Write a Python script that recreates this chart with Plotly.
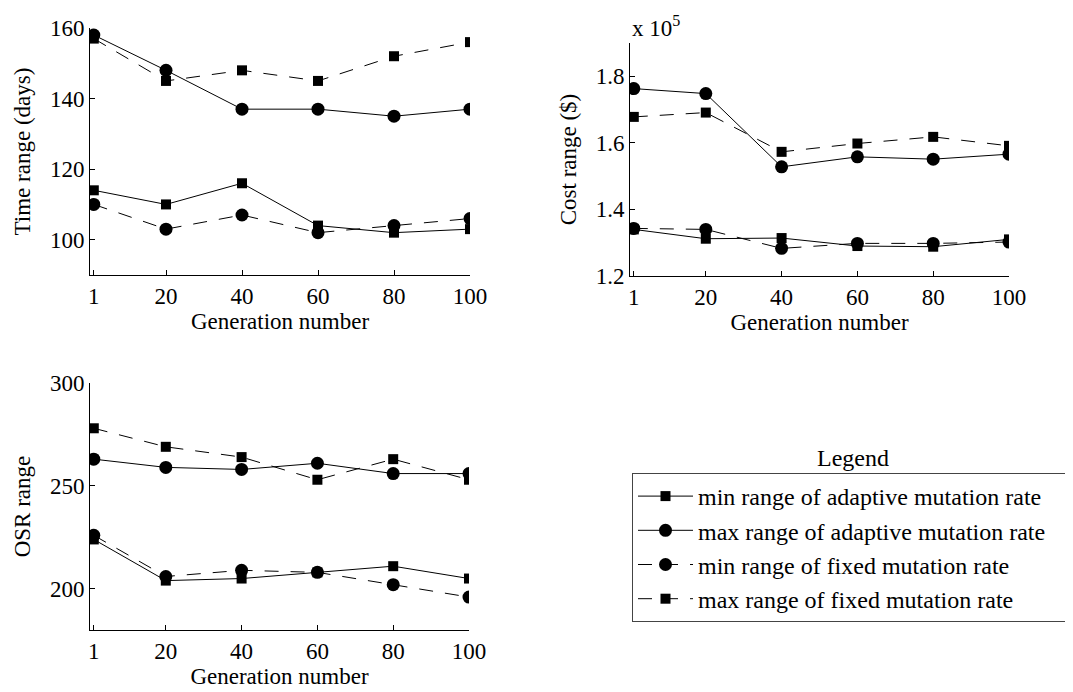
import plotly.graph_objects as go

generations = [1, 20, 40, 60, 80, 100]
gen_labels = ["1", "20", "40", "60", "80", "100"]

series_names = [
    "min range of adaptive mutation rate",
    "max range of adaptive mutation rate",
    "min range of fixed mutation rate",
    "max range of fixed mutation rate",
]

# Time range (days)
time_min_adaptive = [114, 110, 116, 104, 102, 103]
time_max_adaptive = [158, 148, 137, 137, 135, 137]
time_min_fixed = [110, 103, 107, 102, 104, 106]
time_max_fixed = [157, 145, 148, 145, 152, 156]

# Cost range ($)
cost_min_adaptive = [134000, 131200, 131400, 129000, 128800, 131000]
cost_max_adaptive = [176300, 174800, 152800, 155800, 155100, 156600]
cost_min_fixed = [134300, 134000, 128300, 129800, 129800, 130200]
cost_max_fixed = [167800, 169100, 157300, 159800, 161800, 159100]
cost_ticks = [120000, 140000, 160000, 180000]
cost_tick_labels = ["1.2", "1.4", "1.6", "1.8"]

# OSR range
osr_min_adaptive = [224, 204, 205, 208, 211, 205]
osr_max_adaptive = [263, 259, 258, 261, 256, 256]
osr_min_fixed = [226, 206, 209, 208, 202, 196]
osr_max_fixed = [278, 269, 264, 253, 263, 253]

W, H = 1073, 692
OFF = 8  # page body margin
FONT = "Liberation Serif, Times New Roman, serif"
LEGEND_PAD = "\u00a0" * 4

styles = [
    dict(symbol="square", size=10, dash="solid"),
    dict(symbol="circle", size=13, dash="solid"),
    dict(symbol="circle", size=13, dash="14px,12px"),
    dict(symbol="square", size=10, dash="14px,12px"),
]

fig = go.Figure()

panels = [
    ("x", "y", [time_min_adaptive, time_max_adaptive, time_min_fixed, time_max_fixed], True),
    ("x2", "y2", [cost_min_adaptive, cost_max_adaptive, cost_min_fixed, cost_max_fixed], False),
    ("x3", "y3", [osr_min_adaptive, osr_max_adaptive, osr_min_fixed, osr_max_fixed], False),
]

for xa, ya, data, show in panels:
    for i, vals in enumerate(data):
        st = styles[i]
        fig.add_trace(go.Scatter(
            x=generations, y=vals, xaxis=xa, yaxis=ya,
            mode="lines+markers", name=series_names[i] + LEGEND_PAD,
            legendgroup="g%d" % i, showlegend=show,
            line=dict(color="black", width=1, dash=st["dash"]),
            marker=dict(color="black", symbol=st["symbol"], size=st["size"]),
        ))


def px_x(p):
    return (p - OFF) / W


def px_y(p):
    return 1 - (p - OFF) / H


TITLE_FONT = dict(family=FONT, size=23, color="black")

axis_common = dict(
    showline=True, linecolor="black", linewidth=1, mirror=False,
    ticks="inside", ticklen=5, tickcolor="black", tickwidth=1,
    showgrid=False, zeroline=False, automargin=False,
    tickfont=dict(family=FONT, size=23, color="black"),
)

xcommon = dict(axis_common, range=[0, 100], tickvals=generations, ticktext=gen_labels,
               title=dict(text="Generation number", font=TITLE_FONT, standoff=4))

fig.update_layout(
    width=W, height=H,
    margin=dict(l=0, r=0, t=0, b=0, autoexpand=False),
    paper_bgcolor="white", plot_bgcolor="white",
    font=dict(family=FONT, color="black"),
    xaxis=dict(xcommon, domain=[px_x(90), px_x(470)], anchor="y"),
    yaxis=dict(axis_common, domain=[px_y(275), px_y(28)], anchor="x", range=[90, 160],
               tickvals=[100, 120, 140, 160],
               title=dict(text="Time range (days)", font=TITLE_FONT, standoff=12)),
    xaxis2=dict(xcommon, domain=[px_x(630), px_x(1009)], anchor="y2"),
    yaxis2=dict(axis_common, domain=[px_y(276), px_y(43)], anchor="x2", range=[120000, 190000],
                tickvals=cost_ticks, ticktext=cost_tick_labels,
                title=dict(text="Cost range ($)", font=TITLE_FONT, standoff=12)),
    xaxis3=dict(xcommon, domain=[px_x(90), px_x(469)], anchor="y3"),
    yaxis3=dict(axis_common, domain=[px_y(630), px_y(383)], anchor="x3", range=[180, 300],
                tickvals=[200, 250, 300],
                title=dict(text="OSR range", font=TITLE_FONT, standoff=12)),
    legend=dict(
        x=px_x(632), y=px_y(473), xanchor="left", yanchor="top",
        bordercolor="#444444", borderwidth=1, bgcolor="white",
        font=dict(family=FONT, size=24, color="black"),
        itemwidth=55, tracegroupgap=0,
    ),
    annotations=[
        dict(text="Legend", x=px_x(853), y=px_y(458), xref="paper", yref="paper",
             xanchor="center", yanchor="middle", showarrow=False,
             font=dict(family=FONT, size=24, color="black")),
        dict(text="x 10<sup>5</sup>", x=px_x(630), y=px_y(26), xref="paper", yref="paper",
             xanchor="left", yanchor="middle", showarrow=False,
             font=dict(family=FONT, size=23, color="black")),
    ],
)

fig.write_html("out.html")
